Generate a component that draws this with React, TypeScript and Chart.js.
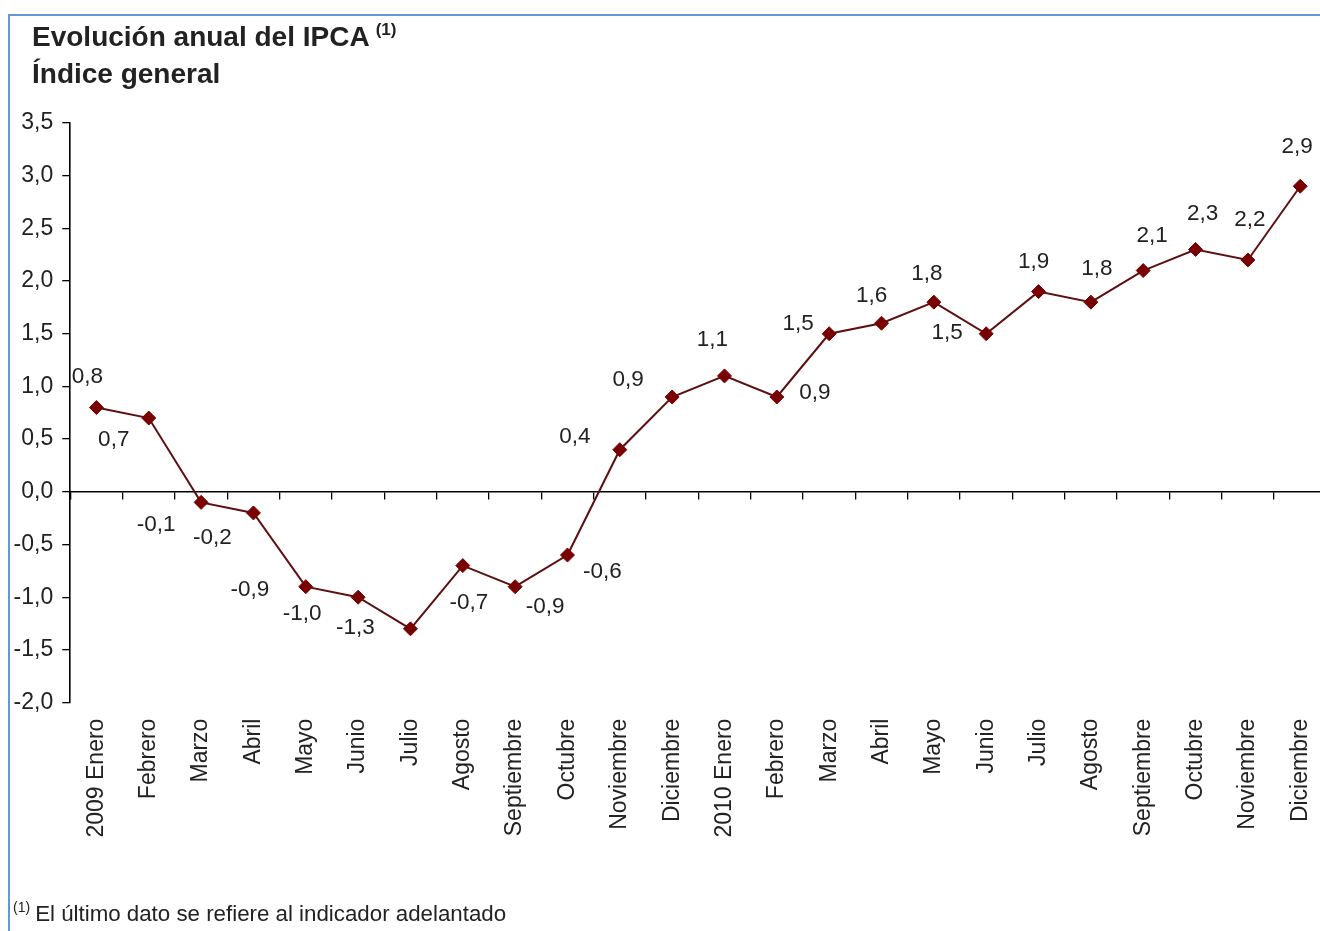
import React, { useEffect, useRef } from 'react';
import { Chart, registerables } from 'chart.js';

Chart.register(...registerables);

// ---- Data ----
const months: string[] = [
  '2009 Enero', 'Febrero', 'Marzo', 'Abril', 'Mayo', 'Junio', 'Julio', 'Agosto',
  'Septiembre', 'Octubre', 'Noviembre', 'Diciembre',
  '2010 Enero', 'Febrero', 'Marzo', 'Abril', 'Mayo', 'Junio', 'Julio', 'Agosto',
  'Septiembre', 'Octubre', 'Noviembre', 'Diciembre',
];
const ipca: number[] = [
  0.8, 0.7, -0.1, -0.2, -0.9, -1.0, -1.3, -0.7, -0.9, -0.6, 0.4, 0.9,
  1.1, 0.9, 1.5, 1.6, 1.8, 1.5, 1.9, 1.8, 2.1, 2.3, 2.2, 2.9,
];
const yMin = -2.0;
const yMax = 3.5;
const yStep = 0.5;

const titleLine1 = 'Evolución anual del IPCA';
const titleLine2 = 'Índice general';
const noteMark = '(1)';
const noteText = 'El último dato se refiere al indicador adelantado';

// label placement relative to each point (px), as in the original
const labelOffsets: [number, number][] = [
  [-9, -31], [-35, 22], [-45, 22], [-41, 25], [-56, 3], [-56, 17], [-55, -1], [6, 37],
  [30, 20], [35, 17], [-45, -13], [-44, -17], [-12, -36], [38, -4], [-31, -10], [-10, -27],
  [-7, -28], [-39, -1], [-5, -30], [6, -33], [9, -35], [7, -36], [2, -40], [-3, -39],
];

const FONT = '"Liberation Sans", Arial, Helvetica, sans-serif';
const TEXT = '#222222';
const fmt = (v: number) => Number(v).toFixed(1).replace('.', ',');

const dataLabelPlugin = {
  id: 'dataLabels',
  afterDatasetsDraw(chart: any) {
    const ctx = chart.ctx;
    const meta = chart.getDatasetMeta(0);
    ctx.save();
    ctx.font = `22.5px ${FONT}`;
    ctx.fillStyle = TEXT;
    ctx.textAlign = 'center';
    ctx.textBaseline = 'middle';
    meta.data.forEach((pt: any, i: number) => {
      const [dx, dy] = labelOffsets[i] || [0, -20];
      ctx.fillText(fmt(ipca[i]), pt.x + dx, pt.y + dy);
    });
    ctx.restore();
  },
};

export default function App() {
  const canvasRef = useRef<HTMLCanvasElement | null>(null);

  useEffect(() => {
    if (!canvasRef.current) return;
    const chart = new Chart(canvasRef.current, {
      type: 'line',
      data: {
        labels: months,
        datasets: [
          {
            data: ipca,
            borderColor: '#5e1010',
            borderWidth: 2,
            pointStyle: 'rectRot',
            pointRadius: 7,
            pointBackgroundColor: '#780000',
            pointBorderColor: '#780000',
            pointBorderWidth: 1,
            tension: 0,
            xAxisID: 'x',
            yAxisID: 'y',
          },
        ],
      },
      options: {
        animation: false,
        responsive: false,
        maintainAspectRatio: false,
        devicePixelRatio: 1,
        layout: { padding: { top: 123, right: 4.5, left: 0, bottom: 0 } },
        plugins: {
          legend: { display: false },
          tooltip: { enabled: false },
          title: { display: false },
        },
        scales: {
          x: {
            type: 'category',
            position: 'bottom',
            offset: true,
            grid: { display: false, drawTicks: false },
            border: { display: false },
            ticks: {
              autoSkip: false,
              maxRotation: 90,
              minRotation: 90,
              padding: 16,
              color: TEXT,
              font: { family: FONT, size: 23 },
            },
            afterFit: (s: any) => {
              s.height = 228.4;
            },
          },
          x2: {
            type: 'category',
            axis: 'x',
            position: { y: 0 },
            offset: true,
            grid: {
              offset: true,
              drawOnChartArea: false,
              drawTicks: true,
              tickLength: 7,
              color: '#000',
              lineWidth: 1.3,
            },
            border: { display: true, color: '#000', width: 1.6 },
            ticks: { display: false },
          },
          y: {
            min: yMin,
            max: yMax,
            ticks: {
              stepSize: yStep,
              padding: 9,
              color: TEXT,
              font: { family: FONT, size: 23 },
              callback: (v: any) => fmt(v),
            },
            grid: { drawOnChartArea: false, tickLength: 8, color: '#000', lineWidth: 1.3 },
            border: { color: '#000', width: 1.6 },
            afterFit: (s: any) => {
              s.width = 70.25;
            },
          },
        },
      } as any,
      plugins: [dataLabelPlugin],
    });
    return () => chart.destroy();
  }, []);

  return (
    <div
      style={{
        position: 'fixed',
        left: 0,
        top: 0,
        width: 1320,
        height: 931,
        overflow: 'hidden',
        background: '#ffffff',
        fontFamily: FONT,
        color: TEXT,
      }}
    >
      <div
        style={{
          position: 'absolute',
          left: 8,
          top: 14,
          width: 1400,
          height: 1000,
          borderLeft: '2px solid #6596dc',
          borderTop: '2px solid #6596dc',
          boxSizing: 'border-box',
        }}
      />
      <canvas
        ref={canvasRef}
        width={1344}
        height={931}
        style={{ position: 'absolute', left: 0, top: 0, width: 1344, height: 931 }}
      />
      <div
        style={{
          position: 'absolute',
          left: 32,
          top: 23,
          fontSize: 28,
          lineHeight: '28px',
          fontWeight: 'bold',
          whiteSpace: 'nowrap',
        }}
      >
        {titleLine1}
        <span style={{ fontSize: 17, position: 'relative', top: -11, marginLeft: 6 }}>{noteMark}</span>
      </div>
      <div
        style={{
          position: 'absolute',
          left: 32,
          top: 60,
          fontSize: 28,
          lineHeight: '28px',
          fontWeight: 'bold',
          whiteSpace: 'nowrap',
        }}
      >
        {titleLine2}
      </div>
      <div
        style={{
          position: 'absolute',
          left: 13,
          top: 903,
          fontSize: 22.3,
          lineHeight: '22px',
          whiteSpace: 'nowrap',
        }}
      >
        <span style={{ fontSize: 14, position: 'relative', top: -9, marginRight: 5 }}>{noteMark}</span>
        {noteText}
      </div>
    </div>
  );
}
